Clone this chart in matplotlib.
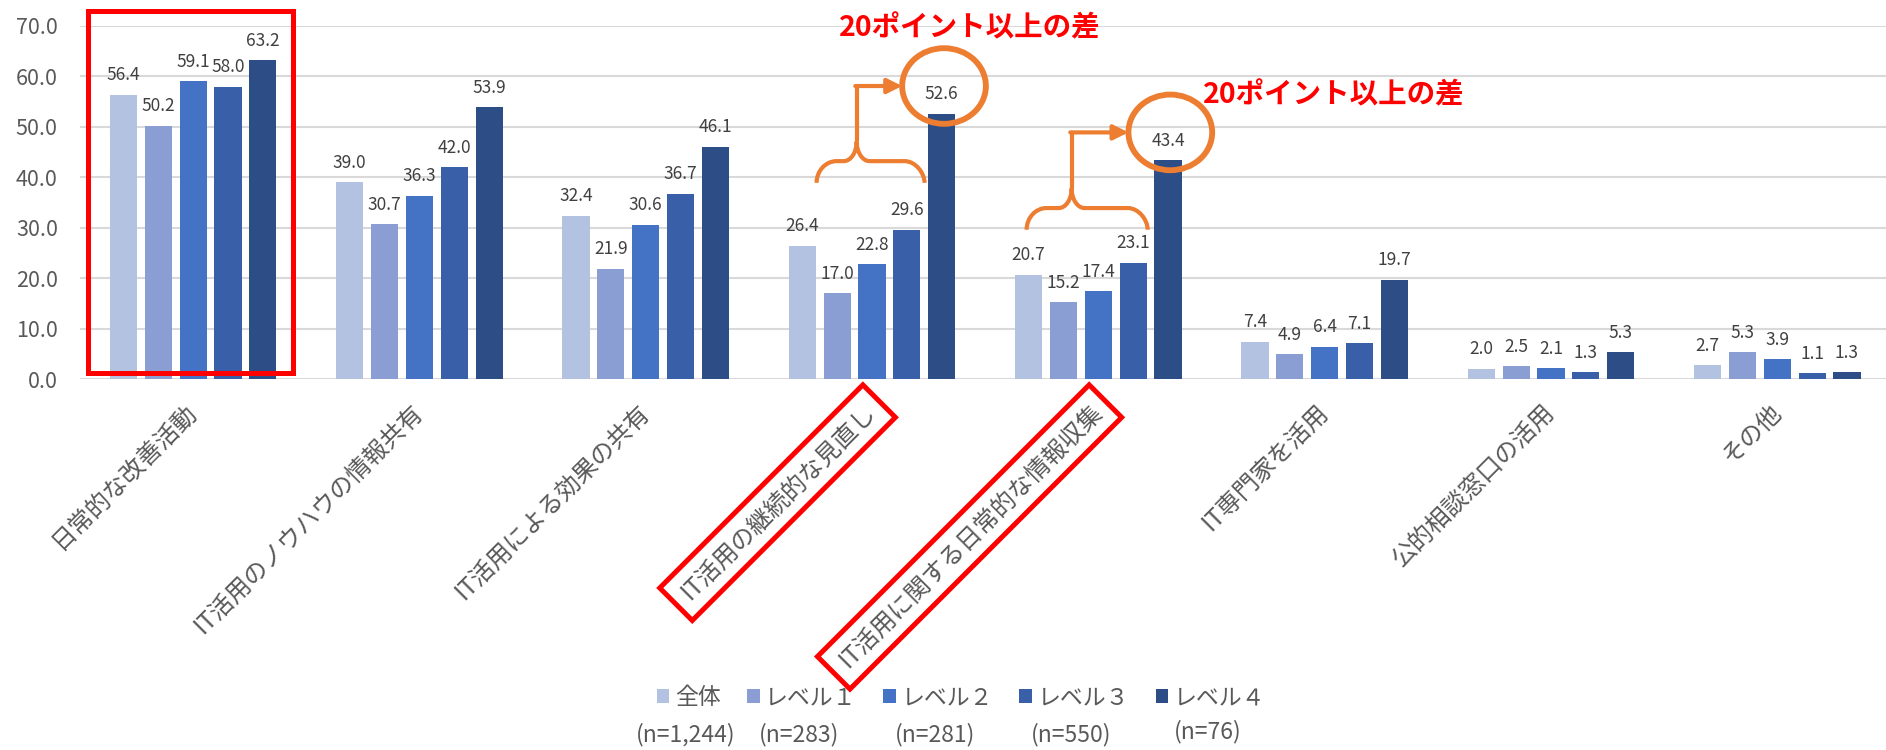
import numpy as np
import matplotlib
matplotlib.use("Agg")
import matplotlib.pyplot as plt
from matplotlib.patches import Rectangle, Ellipse, Patch, PathPatch
from matplotlib.path import Path
from matplotlib.transforms import Affine2D

plt.rcParams['font.family'] = ['Noto Sans CJK JP', 'DejaVu Sans']

# data
categories = ["日常的な改善活動", "IT活用のノウハウの情報共有", "IT活用による効果の共有",
              "IT活用の継続的な見直し", "IT活用に関する日常的な情報収集", "IT専門家を活用",
              "公的相談窓口の活用", "その他"]
series_names = ["全体", "レベル１", "レベル２", "レベル３", "レベル４"]
series_n = ["(n=1,244)", "(n=283)", "(n=281)", "(n=550)", "(n=76)"]
zentai = [56.4, 39.0, 32.4, 26.4, 20.7, 7.4, 2.0, 2.7]
level1 = [50.2, 30.7, 21.9, 17.0, 15.2, 4.9, 2.5, 5.3]
level2 = [59.1, 36.3, 30.6, 22.8, 17.4, 6.4, 2.1, 3.9]
level3 = [58.0, 42.0, 36.7, 29.6, 23.1, 7.1, 1.3, 1.1]
level4 = [63.2, 53.9, 46.1, 52.6, 43.4, 19.7, 5.3, 1.3]
series = [zentai, level1, level2, level3, level4]
colors = ["#B4C2E2", "#8A9ED4", "#4472C4", "#3A5FA9", "#2C4D86"]

ORANGE = "#ED7D31"
GREY = "#595959"

W, H = 1886, 750
fig = plt.figure(figsize=(W / 100, H / 100), dpi=100)
ax = fig.add_axes([80 / W, 371 / H, 1806 / W, 353 / H])

x = np.arange(len(categories))
pitch = 0.154
bw = 0.12
for j, (vals, c) in enumerate(zip(series, colors)):
    xs = x + (j - 2) * pitch
    ax.bar(xs, vals, width=bw, color=c, zorder=2)
    for xi, v in zip(xs, vals):
        ax.annotate(f"{v:.1f}", (xi, v), xytext=(0, 14), textcoords="offset points",
                    ha="center", va="center", fontsize=12.5, color="#404040")

ax.set_xlim(-0.5, -0.5 + 1806 / 226.3)
ax.set_ylim(0, 70)
ax.set_yticks(np.arange(0, 71, 10))
ax.set_yticklabels([f"{t:.1f}" for t in np.arange(0, 71, 10)])
ax.yaxis.grid(True, color="#D9D9D9", lw=1.5)
ax.set_axisbelow(True)
for s in ax.spines.values():
    s.set_visible(False)
ax.tick_params(axis="y", length=0, pad=16, labelsize=15.5, labelcolor=GREY)
ax.set_xticks(x)
ax.set_xticklabels(categories, rotation=45, ha="right", rotation_mode="anchor",
                   fontsize=17.5, color=GREY)
for lab in ax.get_xticklabels():
    lab.set_va("center")
ax.tick_params(axis="x", length=0, pad=21)

# red box around the first group
ax.add_patch(Rectangle((-0.464, 1.1), 0.906, 71.8, fill=False, ec="red", lw=3.6,
                       clip_on=False, zorder=3))

# orange circles, braces and arrows
def brace(x0, x1, xt, yb, yh, yt, rx, rxt):
    k = 0.55
    verts = [(x0, yb),
             (x0, yb + k * (yh - yb)), (x0 + rx * (1 - k), yh), (x0 + rx, yh),
             (xt - rxt, yh),
             (xt - rxt * (1 - k), yh), (xt, yt - k * (yt - yh)), (xt, yt),
             (xt, yt - k * (yt - yh)), (xt + rxt * (1 - k), yh), (xt + rxt, yh),
             (x1 - rx, yh),
             (x1 - rx * (1 - k), yh), (x1, yh - k * (yh - yb)), (x1, yb)]
    codes = [Path.MOVETO] + [Path.CURVE4] * 3 + [Path.LINETO] + [Path.CURVE4] * 6 + \
            [Path.LINETO] + [Path.CURVE4] * 3
    return PathPatch(Path(verts, codes), fill=False, ec=ORANGE, lw=3, clip_on=False,
                     zorder=4)

# (category, brace left, brace right, brace tip, gap above level3, text position)
callouts = [(3, -0.245, 0.232, -0.068, 9.3, (3.43, 69.6)),
            (4, -0.317, 0.218, -0.118, 6.5, (5.04, 56.3))]
for ci, bl, br, bt, gap, tpos in callouts:
    bx = ci + 2 * pitch
    top = level4[ci]
    cy = top + 5.5
    cw = 0.37
    ax.add_patch(Ellipse((bx + 0.01, cy), cw, 15, fill=False, ec=ORANGE, lw=4.2,
                         clip_on=False, zorder=4))
    yb = max(s[ci] for s in series[:4]) + gap
    yh = yb + 4.3
    yt = yh + 3.9
    ax.add_patch(brace(ci + bl, ci + br, ci + bt, yb, yh, yt, 0.088, 0.057))
    ax.plot([ci + bt, ci + bt], [yt, cy], color=ORANGE, lw=3, clip_on=False, zorder=4,
            solid_capstyle="butt")
    ax.annotate("", xy=(bx + 0.01 - cw / 2, cy), xytext=(ci + bt - 0.006, cy),
                arrowprops=dict(arrowstyle="-|>", color=ORANGE, lw=3, mutation_scale=22,
                                shrinkA=0, shrinkB=0), annotation_clip=False, zorder=4)
    ax.text(tpos[0], tpos[1], "20ポイント以上の差", color="red", fontsize=20.5,
            fontweight="bold", ha="center", va="center", clip_on=False)

# legend
handles = [Patch(fc=c, ec="none") for c in colors]
leg = fig.legend(handles, series_names, loc="center", bbox_to_anchor=(961 / W, 52 / H),
                 ncol=5, frameon=False, fontsize=16.5, handlelength=0.55, handleheight=0.55,
                 handletextpad=0.25, columnspacing=1.15, labelcolor=GREY)

fig.canvas.draw()
renderer = fig.canvas.get_renderer()

# sample sizes under each legend entry
for hnd, txt, n in zip(leg.legend_handles, leg.get_texts(), series_n):
    hb = hnd.get_window_extent(renderer)
    tb = txt.get_window_extent(renderer)
    cx = (hb.x0 + tb.x1) / 2 - 3
    yy = 18 if n == "(n=76)" else 15
    fig.text(cx / W, yy / H, n, ha="center", va="center", fontsize=16.5, color=GREY)

# red rotated frames around two tick labels
for i in (3, 4):
    lab = ax.get_xticklabels()[i]
    axp, ayp = lab.get_transform().transform(lab.get_position())
    w, h, d = renderer.get_text_width_height_descent(lab.get_text(),
                                                     lab.get_fontproperties(), ismath=False)
    padl, padr, hh = 13, 10, 23
    tr = Affine2D().rotate_deg(45).translate(axp, ayp)
    fig.patches.append(Rectangle((-w - padl, -hh), w + padl + padr, 2 * hh, fill=False,
                                 ec="red", lw=3.6, transform=tr, figure=fig))

fig.savefig("out.png", dpi=100)
